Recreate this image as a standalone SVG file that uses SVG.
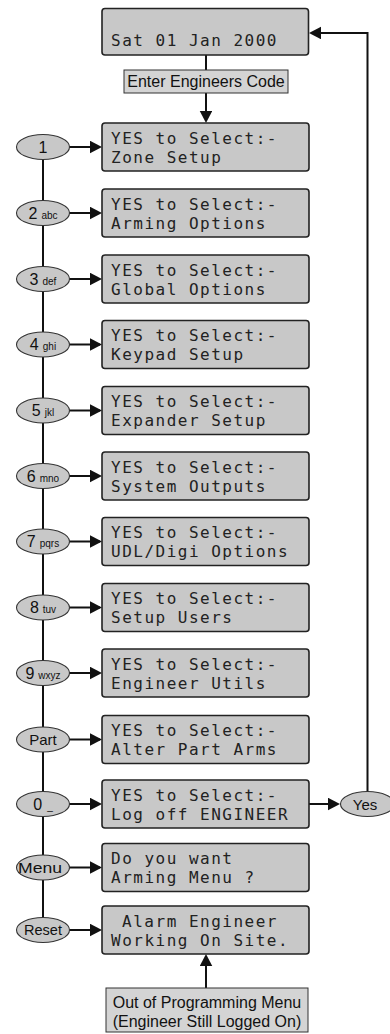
<svg xmlns="http://www.w3.org/2000/svg" width="390" height="1034" viewBox="0 0 390 1034">
<defs>
<marker id="ah" markerUnits="userSpaceOnUse" markerWidth="13" markerHeight="13" refX="10" refY="6.25" orient="auto">
<path d="M0,0 L12,6.25 L0,12.5 z" fill="#111"/>
</marker>
<style>
.lcd{fill:#c8c8c8;stroke:#222;stroke-width:1.6}
.lbl{fill:#d4d4d4;stroke:#333;stroke-width:1}
.key{fill:#c8c8c8;stroke:#333;stroke-width:1.1}
.t{font-family:"DejaVu Sans Mono","Liberation Mono",monospace;font-size:16px;letter-spacing:1.5px;fill:#222}
.s{font-family:"Liberation Sans",Arial,sans-serif;fill:#111}
.c{stroke:#111;stroke-width:2;fill:none}
</style>
</defs>
<rect width="390" height="1034" fill="#fff"/>
<g id="connectors">
<line class="c" x1="43" y1="147" x2="43" y2="930"/>
<line class="c" x1="206" y1="55" x2="206" y2="70"/>
<line class="c" x1="206" y1="93" x2="206" y2="121" marker-end="url(#ah)"/>
<polyline class="c" points="367.5,792 367.5,33 311,33" marker-end="url(#ah)"/>
<line class="c" x1="309" y1="804" x2="338" y2="804" marker-end="url(#ah)"/>
<line class="c" x1="206" y1="988" x2="206" y2="956" marker-end="url(#ah)"/>
<line class="c" x1="69" y1="147" x2="100" y2="147" marker-end="url(#ah)"/>
<line class="c" x1="69" y1="213" x2="100" y2="213" marker-end="url(#ah)"/>
<line class="c" x1="69" y1="279" x2="100" y2="279" marker-end="url(#ah)"/>
<line class="c" x1="69" y1="344.5" x2="100" y2="344.5" marker-end="url(#ah)"/>
<line class="c" x1="69" y1="410.5" x2="100" y2="410.5" marker-end="url(#ah)"/>
<line class="c" x1="69" y1="476" x2="100" y2="476" marker-end="url(#ah)"/>
<line class="c" x1="69" y1="541.5" x2="100" y2="541.5" marker-end="url(#ah)"/>
<line class="c" x1="69" y1="607.5" x2="100" y2="607.5" marker-end="url(#ah)"/>
<line class="c" x1="69" y1="673" x2="100" y2="673" marker-end="url(#ah)"/>
<line class="c" x1="69" y1="739.5" x2="100" y2="739.5" marker-end="url(#ah)"/>
<line class="c" x1="69" y1="804" x2="100" y2="804" marker-end="url(#ah)"/>
<line class="c" x1="69" y1="867.5" x2="100" y2="867.5" marker-end="url(#ah)"/>
<line class="c" x1="69" y1="930" x2="100" y2="930" marker-end="url(#ah)"/>
</g>

<g id="start">
<rect class="lcd" x="102" y="8.5" width="206.5" height="46.5" rx="3"/>
<text class="t" x="111" y="46">Sat 01 Jan 2000</text>
</g>
<g id="enter-code">
<rect class="lbl" x="124" y="70" width="164" height="23"/>
<text class="s" x="206" y="87.3" font-size="16" text-anchor="middle">Enter Engineers Code</text>
</g>

<g id="m1"><rect class="lcd" x="102" y="123" width="207" height="48" rx="3"/><text class="t"><tspan x="111" y="143.5">YES to Select:-</tspan><tspan x="111" y="162.5">Zone Setup</tspan></text></g>
<g id="m2"><rect class="lcd" x="102" y="189" width="207" height="48" rx="3"/><text class="t"><tspan x="111" y="209.5">YES to Select:-</tspan><tspan x="111" y="228.5">Arming Options</tspan></text></g>
<g id="m3"><rect class="lcd" x="102" y="255" width="207" height="48" rx="3"/><text class="t"><tspan x="111" y="275.5">YES to Select:-</tspan><tspan x="111" y="294.5">Global Options</tspan></text></g>
<g id="m4"><rect class="lcd" x="102" y="320.5" width="207" height="48" rx="3"/><text class="t"><tspan x="111" y="341">YES to Select:-</tspan><tspan x="111" y="360">Keypad Setup</tspan></text></g>
<g id="m5"><rect class="lcd" x="102" y="386.5" width="207" height="48" rx="3"/><text class="t"><tspan x="111" y="407">YES to Select:-</tspan><tspan x="111" y="426">Expander Setup</tspan></text></g>
<g id="m6"><rect class="lcd" x="102" y="452" width="207" height="48" rx="3"/><text class="t"><tspan x="111" y="472.5">YES to Select:-</tspan><tspan x="111" y="491.5">System Outputs</tspan></text></g>
<g id="m7"><rect class="lcd" x="102" y="517.5" width="207" height="48" rx="3"/><text class="t"><tspan x="111" y="538">YES to Select:-</tspan><tspan x="111" y="557">UDL/Digi Options</tspan></text></g>
<g id="m8"><rect class="lcd" x="102" y="583.5" width="207" height="48" rx="3"/><text class="t"><tspan x="111" y="604">YES to Select:-</tspan><tspan x="111" y="623">Setup Users</tspan></text></g>
<g id="m9"><rect class="lcd" x="102" y="649" width="207" height="48" rx="3"/><text class="t"><tspan x="111" y="669.5">YES to Select:-</tspan><tspan x="111" y="688.5">Engineer Utils</tspan></text></g>
<g id="mpart"><rect class="lcd" x="102" y="715.5" width="207" height="48" rx="3"/><text class="t"><tspan x="111" y="736">YES to Select:-</tspan><tspan x="111" y="755">Alter Part Arms</tspan></text></g>
<g id="m0"><rect class="lcd" x="102" y="780" width="207" height="48" rx="3"/><text class="t"><tspan x="111" y="800.5">YES to Select:-</tspan><tspan x="111" y="819.5">Log off ENGINEER</tspan></text></g>
<g id="mmenu"><rect class="lcd" x="102" y="843.5" width="207" height="48" rx="3"/><text class="t"><tspan x="111" y="864">Do you want</tspan><tspan x="111" y="883">Arming Menu ?</tspan></text></g>
<g id="mreset"><rect class="lcd" x="102" y="906" width="207" height="48" rx="3"/><text class="t"><tspan x="122.1" y="926.5">Alarm Engineer</tspan><tspan x="111" y="945.5">Working On Site.</tspan></text></g>

<g id="k1"><ellipse class="key" cx="43" cy="147" rx="26.5" ry="12.5"/><text class="s" x="43" y="152.7" font-size="16" text-anchor="middle">1</text></g>
<g id="k2"><ellipse class="key" cx="43" cy="213" rx="26.5" ry="12.5"/><text class="s" x="43" y="218.7" text-anchor="middle"><tspan font-size="16">2</tspan><tspan font-size="10" dx="4">abc</tspan></text></g>
<g id="k3"><ellipse class="key" cx="43" cy="279" rx="26.5" ry="12.5"/><text class="s" x="43" y="284.7" text-anchor="middle"><tspan font-size="16">3</tspan><tspan font-size="10" dx="4">def</tspan></text></g>
<g id="k4"><ellipse class="key" cx="43" cy="344.5" rx="26.5" ry="12.5"/><text class="s" x="43" y="350.2" text-anchor="middle"><tspan font-size="16">4</tspan><tspan font-size="10" dx="4">ghi</tspan></text></g>
<g id="k5"><ellipse class="key" cx="43" cy="410.5" rx="26.5" ry="12.5"/><text class="s" x="43" y="416.2" text-anchor="middle"><tspan font-size="16">5</tspan><tspan font-size="10" dx="4">jkl</tspan></text></g>
<g id="k6"><ellipse class="key" cx="43" cy="476" rx="26.5" ry="12.5"/><text class="s" x="43" y="481.7" text-anchor="middle"><tspan font-size="16">6</tspan><tspan font-size="10" dx="4">mno</tspan></text></g>
<g id="k7"><ellipse class="key" cx="43" cy="541.5" rx="26.5" ry="12.5"/><text class="s" x="43" y="547.2" text-anchor="middle"><tspan font-size="16">7</tspan><tspan font-size="10" dx="4">pqrs</tspan></text></g>
<g id="k8"><ellipse class="key" cx="43" cy="607.5" rx="26.5" ry="12.5"/><text class="s" x="43" y="613.2" text-anchor="middle"><tspan font-size="16">8</tspan><tspan font-size="10" dx="4">tuv</tspan></text></g>
<g id="k9"><ellipse class="key" cx="43" cy="673" rx="26.5" ry="12.5"/><text class="s" x="43" y="678.7" text-anchor="middle"><tspan font-size="16">9</tspan><tspan font-size="10" dx="4">wxyz</tspan></text></g>
<g id="kpart"><ellipse class="key" cx="43" cy="739.5" rx="26.5" ry="12.5"/><text class="s" x="43" y="745" font-size="15" text-anchor="middle">Part</text></g>
<g id="k0"><ellipse class="key" cx="43" cy="804" rx="26.5" ry="12.5"/><text class="s" x="43" y="809.7" text-anchor="middle"><tspan font-size="16">0</tspan><tspan font-size="10" dx="5">_</tspan></text></g>
<g id="kmenu"><ellipse class="key" cx="43" cy="867.5" rx="26.5" ry="12.5"/><text class="s" x="40" y="873" font-size="15" text-anchor="middle" textLength="44" lengthAdjust="spacingAndGlyphs">Menu</text></g>
<g id="kreset"><ellipse class="key" cx="43" cy="930" rx="26.5" ry="12.5"/><text class="s" x="43" y="935.3" font-size="14.5" text-anchor="middle">Reset</text></g>
<g id="kyes"><ellipse class="key" cx="367.5" cy="804" rx="27" ry="12.5"/><text class="s" x="365" y="809.5" font-size="15" text-anchor="middle">Yes</text></g>

<g id="out-label">
<rect class="lbl" x="106" y="988" width="202" height="44"/>
<text class="s" font-size="16" text-anchor="middle"><tspan x="207" y="1007.5">Out of Programming Menu</tspan><tspan x="207" y="1027">(Engineer Still Logged On)</tspan></text>
</g>
</svg>
